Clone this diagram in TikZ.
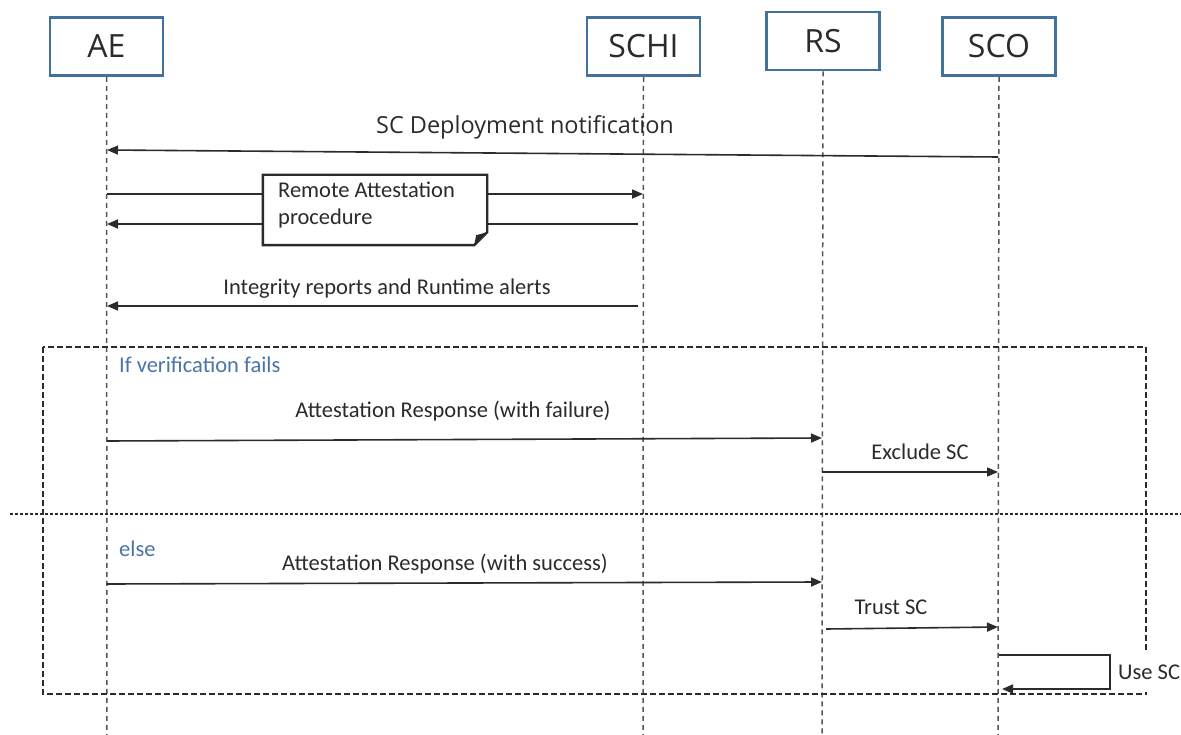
\documentclass[tikz,border=0pt]{standalone}
\usepackage{fontspec}
\setmainfont{Carlito}
\newfontfamily\opensans{Open Sans}
\usetikzlibrary{arrows.meta}
\definecolor{boxblue}{HTML}{41719C}
\definecolor{txtblue}{HTML}{4A74A8}
\definecolor{ink}{HTML}{2B2B2B}
\tikzset{
  actor/.style={draw=boxblue, line width=2.6pt, fill=white, minimum width=113pt, minimum height=58pt, inner sep=0pt, font=\opensans\fontsize{32}{34}\selectfont, text=ink},
  lifeline/.style={draw=ink!80, line width=1.5pt, dash pattern=on 5pt off 4pt},
  msg/.style={draw=ink, line width=1.6pt, -{Triangle[length=11pt,width=9pt]}},
  lbl/.style={font=\fontsize{22.5}{26}\selectfont, text=ink, inner sep=0pt},
  biglbl/.style={font=\opensans\fontsize{23.5}{27}\selectfont, text=ink, inner sep=0pt},
  cond/.style={font=\fontsize{22.5}{26}\selectfont, text=txtblue, inner sep=0pt, anchor=west},
  framebox/.style={draw=ink, line width=2.2pt, dash pattern=on 6pt off 3pt},
  sepline/.style={draw=ink, line width=1.4pt, dash pattern=on 3pt off 2pt},
}
\begin{document}
\begin{tikzpicture}[x=1pt,y=-1pt]
\useasboundingbox (0,0) rectangle (1181,735);
\clip (0,0) rectangle (1181,735);
% actors
\node[actor] (AE) at (106.5,46.5) {AE};
\node[actor] (SCHI) at (643.5,46.5) {SCHI};
\node[actor] (RS) at (823,41) {RS};
\node[actor] (SCO) at (999,46.5) {SCO};
% lifeline ends
\coordinate (AEe) at (107,740);
\coordinate (SCHIe) at (643,740);
\coordinate (RSe) at (822,740);
\coordinate (SCOe) at (998,740);
\draw[lifeline] (AE.south) -- (AEe);
\draw[lifeline] (SCHI.south) -- (SCHIe);
\draw[lifeline] (RS.south) -- (RSe);
\draw[lifeline] (SCO.south) -- (SCOe);
% frame and separator
\draw[framebox] (43,347) rectangle (1146,694);
\coordinate (sepL) at (10,514);
\coordinate (sepR) at (1181,514);
\draw[sepline] (sepL) -- (sepR);
% message 1
\coordinate (m1s) at (998,157);
\coordinate (m1e) at (107,150);
\draw[msg] (m1s) -- (m1e);
\node[biglbl] (t1) at (525,127) {SC Deployment notification};
% remote attestation
\coordinate (m2s) at (107,194);
\coordinate (m2e) at (643,194);
\coordinate (m3s) at (638,224);
\coordinate (m3e) at (107,224);
\draw[msg] (m2s) -- (m2e);
\draw[msg] (m3s) -- (m3e);
\node[fill=white, minimum width=224pt, minimum height=70pt, inner sep=0pt] (note) at (375,210) {};
\draw[ink, line width=2.4pt, fill=white] (note.north west) -- (note.north east) -- ([yshift=13pt]note.south east) -- ([xshift=-13pt]note.south east) -- (note.south west) -- cycle;
\fill[ink] ([yshift=13pt]note.south east) -- ([xshift=-13pt]note.south east) -- ([xshift=-11pt,yshift=10pt]note.south east) -- cycle;
\node[lbl, anchor=north west, align=left, font=\fontsize{22.5}{27}\selectfont] (nt) at (278,182) {Remote Attestation\\procedure};
% integrity reports
\coordinate (m4s) at (638,306);
\coordinate (m4e) at (107,306);
\draw[msg] (m4s) -- (m4e);
\node[lbl] (t4) at (387,289) {Integrity reports and Runtime alerts};
% if verification fails
\node[cond] (c1) at (119,365) {If verification fails};
\coordinate (m5s) at (107,441);
\coordinate (m5e) at (822,438);
\draw[msg] (m5s) -- (m5e);
\node[lbl] (t5) at (453,411) {Attestation Response (with failure)};
\coordinate (m6s) at (822,472);
\coordinate (m6e) at (998,472);
\draw[msg] (m6s) -- (m6e);
\node[lbl] (t6) at (920,452) {Exclude SC};
% else
\node[cond] (c2) at (119,549) {else};
\coordinate (m7s) at (107,584);
\coordinate (m7e) at (822,582);
\draw[msg] (m7s) -- (m7e);
\node[lbl] (t7) at (445,564) {Attestation Response (with success)};
\coordinate (m8s) at (826,629);
\coordinate (m8e) at (998,627);
\draw[msg] (m8s) -- (m8e);
\node[lbl] (t8) at (891,607) {Trust SC};
% self message
\coordinate (m9s) at (999,655);
\coordinate (m9c) at (1110,655);
\coordinate (m9e) at (1002,689);
\draw[msg] (m9s) -- (m9c) |- (m9e);
\node[lbl, anchor=west, fill=white, inner sep=3pt, minimum height=40pt] (t9) at (1115,672) {Use SC};
\end{tikzpicture}
\end{document}
